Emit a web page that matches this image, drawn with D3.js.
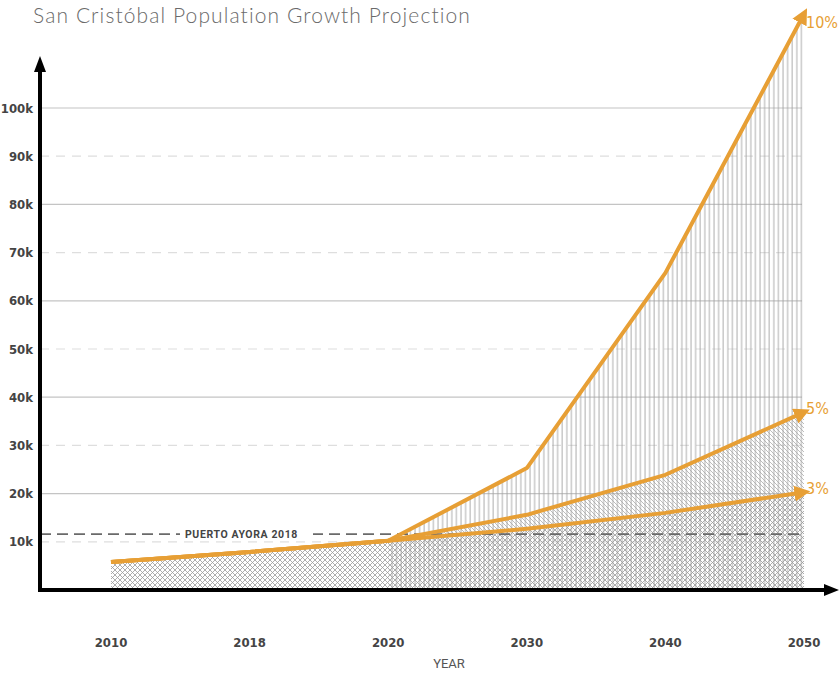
<!DOCTYPE html>
<html>
<head>
<meta charset="utf-8">
<script src="https://cdn.jsdelivr.net/npm/d3@7"></script>
<style>
  body { margin: 0; background: #fff; }
  svg { display: block; }
</style>
</head>
<body>
<div id="container"></div>
<script>
const W = 839, H = 677;

// data
const years = ['2010', '2018', '2020', '2030', '2040', '2050'];
const base = [5800, 7900, 10200];             // 2010, 2018, 2020 (shared)
const growth3 = [12700, 16000, 20300];        // 2030, 2040, 2050
const growth5 = [15600, 23900, 36900];
const growth10 = [25300, 65800, 119500];
const yTicks = [10000, 20000, 30000, 40000, 50000, 60000, 70000, 80000, 90000, 100000];
const puertoAyora = 11600;
const seriesNames = ['3%', '5%', '10%'];

const orange = '#e79f35';

const svg = d3.select('#container').append('svg')
    .attr('width', W).attr('height', H);

const x = d3.scalePoint().domain(years).range([111, 804]);
const y = d3.scaleLinear().domain([0, 100000]).range([590, 108]);

function series(tail) {
    return years.map((yr, i) => ({ year: yr, v: i < 3 ? base[i] : tail[i - 3] }));
}
const s3 = series(growth3), s5 = series(growth5), s10 = series(growth10);

// patterns
const defs = svg.append('defs');
const pv = defs.append('pattern').attr('id', 'vert')
    .attr('patternUnits', 'userSpaceOnUse').attr('width', 4.6).attr('height', 10);
pv.append('line').attr('x1', 1).attr('x2', 1).attr('y1', 0).attr('y2', 10)
    .attr('stroke', '#a0a0a0').attr('stroke-width', 0.9);

const pd = defs.append('pattern').attr('id', 'diag')
    .attr('patternUnits', 'userSpaceOnUse').attr('width', 4).attr('height', 4);
pd.append('path').attr('d', 'M-1,-1 L5,5 M-1,3 L1,5 M3,-1 L5,1')
    .attr('stroke', '#a0a0a0').attr('stroke-width', 0.7);

const px = defs.append('pattern').attr('id', 'cross')
    .attr('patternUnits', 'userSpaceOnUse').attr('width', 5).attr('height', 5);
px.append('path').attr('d', 'M0,0 L5,5 M5,0 L0,5')
    .attr('stroke', '#999').attr('stroke-width', 0.8);

const mk = defs.append('marker').attr('id', 'arrowO')
    .attr('viewBox', '0 0 10 10').attr('refX', 6).attr('refY', 5)
    .attr('markerWidth', 4).attr('markerHeight', 4)
    .attr('orient', 'auto');
mk.append('path').attr('d', 'M0,0 L10,5 L0,10 Z').attr('fill', orange);

// grid
svg.append('g').selectAll('line').data(yTicks).enter().append('line')
    .attr('x1', 40).attr('x2', 802)
    .attr('y1', d => y(d)).attr('y2', d => y(d))
    .attr('stroke', (d, i) => i % 2 ? '#c4c4c4' : '#dedede')
    .attr('stroke-width', 1.2)
    .attr('stroke-dasharray', (d, i) => i % 2 ? null : '9,7');

// hatched areas
const area = d3.area().x(d => x(d.year)).y0(y(0)).y1(d => y(d.v));
svg.append('path').datum(s10.slice(2)).attr('d', area).attr('fill', 'url(#vert)');
const band = d3.area().x(d => x(d.year)).y0(d => y(d.lo)).y1(d => y(d.hi));
svg.append('path')
    .datum(s5.slice(2).map((d, i) => ({ year: d.year, hi: d.v, lo: s3[i + 2].v })))
    .attr('d', band).attr('fill', 'url(#diag)');
svg.append('path').datum(s3).attr('d', area).attr('fill', 'url(#cross)');

// Puerto Ayora reference
svg.append('line')
    .attr('x1', 40).attr('x2', 802)
    .attr('y1', y(puertoAyora)).attr('y2', y(puertoAyora))
    .attr('stroke', '#6a6a6a').attr('stroke-width', 1.6)
    .attr('stroke-dasharray', '11,6');
svg.append('rect').attr('x', 180).attr('y', y(puertoAyora) - 7)
    .attr('width', 133).attr('height', 14).attr('fill', '#fff');
svg.append('text')
    .attr('x', 185).attr('y', y(puertoAyora)).attr('dy', '0.35em')
    .style('font-family', 'Roboto, sans-serif').style('font-size', '10.5px')
    .style('font-weight', 'bold').style('letter-spacing', '0.6px')
    .attr('fill', '#444').text('PUERTO AYORA 2018');

// growth lines
const line = d3.line().x(d => x(d.year)).y(d => y(d.v));
[s3, s5, s10].forEach(s => {
    svg.append('path').datum(s).attr('d', line)
        .attr('fill', 'none').attr('stroke', orange).attr('stroke-width', 4)
        .attr('stroke-linejoin', 'round')
        .attr('marker-end', 'url(#arrowO)');
});

// series labels
const lastVals = [growth3[2], growth5[2], growth10[2]];
svg.append('g').selectAll('text').data(seriesNames).enter().append('text')
    .attr('x', 806)
    .attr('y', (d, i) => i === 2 ? 22 : y(lastVals[i]) - 4)
    .attr('dy', '0.35em')
    .style('font-family', '"DejaVu Sans Condensed", sans-serif')
    .style('font-size', '16px')
    .attr('fill', orange).text(d => d);

// axes
svg.append('line').attr('x1', 40).attr('x2', 40).attr('y1', 592).attr('y2', 68)
    .attr('stroke', '#000').attr('stroke-width', 4);
svg.append('path').attr('d', 'M34,72 L40,56 L46,72 Z').attr('fill', '#000');
svg.append('line').attr('x1', 38).attr('x2', 828).attr('y1', 590).attr('y2', 590)
    .attr('stroke', '#000').attr('stroke-width', 4);
svg.append('path').attr('d', 'M824,584 L839,590 L824,596 Z').attr('fill', '#000');

// y tick labels
svg.append('g').selectAll('text').data(yTicks).enter().append('text')
    .attr('x', 33).attr('y', d => y(d)).attr('dy', '0.35em')
    .attr('text-anchor', 'end')
    .style('font-family', '"DejaVu Sans Condensed", sans-serif')
    .style('font-size', '13px').style('font-weight', 'bold')
    .attr('fill', '#444').text(d => (d / 1000) + 'k');

// x tick labels
svg.append('g').selectAll('text').data(years).enter().append('text')
    .attr('x', d => x(d)).attr('y', 642).attr('dy', '0.35em')
    .attr('text-anchor', 'middle')
    .style('font-family', '"DejaVu Sans Condensed", sans-serif')
    .style('font-size', '13px').style('font-weight', 'bold')
    .attr('fill', '#444').text(d => d);

svg.append('text').attr('x', 449).attr('y', 663).attr('dy', '0.35em')
    .attr('text-anchor', 'middle')
    .style('font-family', 'Roboto, sans-serif').style('font-size', '13px')
    .attr('fill', '#555').text('YEAR');

// title
svg.append('text').attr('x', 33).attr('y', 23)
    .style('font-family', 'Lato, sans-serif').style('font-size', '21px')
    .style('font-weight', 300).style('letter-spacing', '1.1px')
    .attr('fill', '#6a6a6a').text('San Cristóbal Population Growth Projection');
</script>
</body>
</html>
